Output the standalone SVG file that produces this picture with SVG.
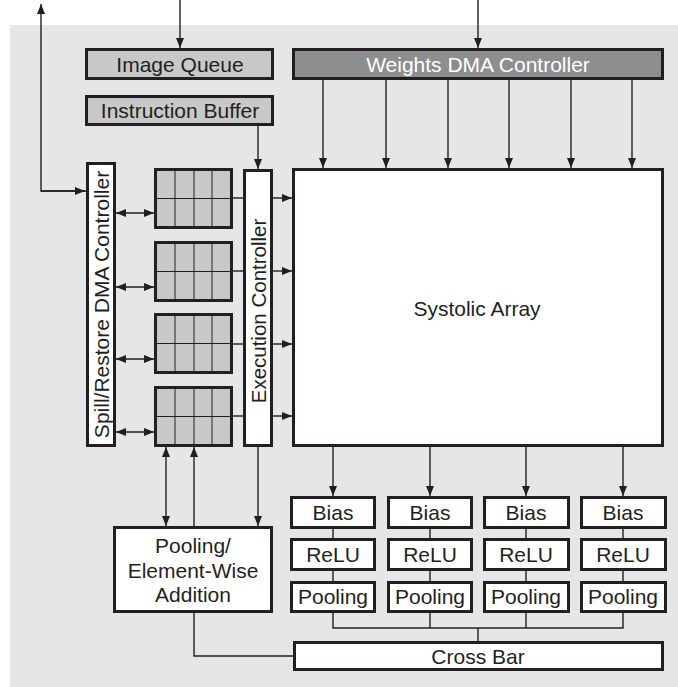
<svg xmlns="http://www.w3.org/2000/svg" width="678" height="687" viewBox="0 0 678 687">
<defs>
<marker id="ah" markerUnits="userSpaceOnUse" markerWidth="10" markerHeight="8" refX="10" refY="4" orient="auto-start-reverse">
<path d="M0,0 L10,4 L0,8 Z" fill="#231f20"/>
</marker>
<style>
.box{stroke:#231f20;stroke-width:3;}
.w{fill:#ffffff;}
.lg{fill:#c8c8c9;}
.dg{fill:#8d8e90;}
.t{font-family:"Liberation Sans",Arial,sans-serif;font-size:21px;fill:#231f20;text-anchor:middle;}
.tw{fill:#ffffff;}
.c{stroke:#231f20;stroke-width:1.4;fill:none;}
.a{marker-end:url(#ah);}
.b{marker-start:url(#ah);marker-end:url(#ah);}
.g{stroke:#231f20;stroke-width:1;fill:none;}
</style>
</defs>
<rect x="10" y="25" width="668" height="662" fill="#e5e6e7"/>

<g id="connectors">
<line class="c a" x1="180" y1="0" x2="180" y2="48"/>
<line class="c a" x1="478" y1="0" x2="478" y2="48"/>
<polyline class="c a" points="86,191 41,191 41,4"/>
<line class="c a" x1="41" y1="191" x2="85" y2="191"/>
<line class="c a" x1="258" y1="125" x2="258" y2="169"/>
<line class="c a" x1="323" y1="80" x2="323" y2="168"/>
<line class="c a" x1="386" y1="80" x2="386" y2="168"/>
<line class="c a" x1="448" y1="80" x2="448" y2="168"/>
<line class="c a" x1="509" y1="80" x2="509" y2="168"/>
<line class="c a" x1="571" y1="80" x2="571" y2="168"/>
<line class="c a" x1="632" y1="80" x2="632" y2="168"/>
<line class="c b" x1="116" y1="213" x2="154" y2="213"/>
<line class="c b" x1="116" y1="287" x2="154" y2="287"/>
<line class="c b" x1="116" y1="359" x2="154" y2="359"/>
<line class="c b" x1="116" y1="432" x2="154" y2="432"/>
<line class="c" x1="232" y1="198" x2="244" y2="198"/>
<line class="c" x1="232" y1="271" x2="244" y2="271"/>
<line class="c" x1="232" y1="344" x2="244" y2="344"/>
<line class="c" x1="232" y1="416" x2="244" y2="416"/>
<line class="c a" x1="272" y1="198" x2="292" y2="198"/>
<line class="c a" x1="272" y1="271" x2="292" y2="271"/>
<line class="c a" x1="272" y1="344" x2="292" y2="344"/>
<line class="c a" x1="272" y1="416" x2="292" y2="416"/>
<line class="c b" x1="166" y1="447" x2="166" y2="526"/>
<line class="c a" x1="194" y1="527" x2="194" y2="447"/>
<line class="c a" x1="258" y1="446" x2="258" y2="526"/>
<line class="c a" x1="333" y1="446" x2="333" y2="496"/>
<line class="c a" x1="430" y1="446" x2="430" y2="496"/>
<line class="c a" x1="526" y1="446" x2="526" y2="496"/>
<line class="c a" x1="623" y1="446" x2="623" y2="496"/>
<line class="c" x1="333" y1="528" x2="333" y2="539"/>
<line class="c" x1="430" y1="528" x2="430" y2="539"/>
<line class="c" x1="526" y1="528" x2="526" y2="539"/>
<line class="c" x1="623" y1="528" x2="623" y2="539"/>
<line class="c" x1="333" y1="570" x2="333" y2="582"/>
<line class="c" x1="430" y1="570" x2="430" y2="582"/>
<line class="c" x1="526" y1="570" x2="526" y2="582"/>
<line class="c" x1="623" y1="570" x2="623" y2="582"/>
<polyline class="c" points="333,612 333,628 623,628 623,612"/>
<line class="c" x1="430" y1="612" x2="430" y2="628"/>
<line class="c" x1="526" y1="612" x2="526" y2="628"/>
<line class="c" x1="478" y1="628" x2="478" y2="642"/>
<polyline class="c" points="194,612 194,656 294,656"/>
</g>

<g id="image-queue">
<rect class="box lg" x="86.5" y="49.5" width="186" height="29"/>
<text class="t" x="180" y="71.5">Image Queue</text>
</g>
<g id="instruction-buffer">
<rect class="box lg" x="86.5" y="96.5" width="186" height="28"/>
<text class="t" x="180" y="118">Instruction Buffer</text>
</g>
<g id="weights-dma-controller">
<rect class="box dg" x="293.5" y="49.5" width="369" height="29"/>
<text class="t tw" x="478" y="71.5">Weights DMA Controller</text>
</g>
<g id="systolic-array">
<rect class="box w" x="293.5" y="169.5" width="369" height="276"/>
<text class="t" x="477" y="316">Systolic Array</text>
</g>
<g id="spill-restore-dma-controller">
<rect class="box w" x="87.5" y="163.5" width="27" height="282"/>
<text class="t" transform="translate(108.5,304.5) rotate(-90)">Spill/Restore DMA Controller</text>
</g>
<g id="execution-controller">
<rect class="box w" x="244.5" y="170.5" width="27" height="275"/>
<text class="t" transform="translate(265.5,311) rotate(-90)" style="font-size:20.5px">Execution Controller</text>
</g>

<g id="register-file-1">
<rect class="box lg" x="155.5" y="169.5" width="76" height="58"/>
<path class="g" d="M175,169V228M194,169V228M212,169V228M155,198.5H232"/>
</g>
<g id="register-file-2">
<rect class="box lg" x="155.5" y="242.5" width="76" height="58"/>
<path class="g" d="M175,242V301M194,242V301M212,242V301M155,271.5H232"/>
</g>
<g id="register-file-3">
<rect class="box lg" x="155.5" y="314.5" width="76" height="58"/>
<path class="g" d="M175,314V373M194,314V373M212,314V373M155,343.5H232"/>
</g>
<g id="register-file-4">
<rect class="box lg" x="155.5" y="387.5" width="76" height="58"/>
<path class="g" d="M175,387V446M194,387V446M212,387V446M155,416.5H232"/>
</g>

<g id="pooling-element-wise-addition">
<rect class="box w" x="114.5" y="527.5" width="157" height="84"/>
<text class="t" x="193" y="553">Pooling/</text>
<text class="t" x="193" y="578">Element-Wise</text>
<text class="t" x="193" y="602">Addition</text>
</g>

<g id="bias-1"><rect class="box w" x="291.5" y="497.5" width="83" height="30"/><text class="t" x="333" y="520">Bias</text></g>
<g id="relu-1"><rect class="box w" x="291.5" y="539.5" width="83" height="30"/><text class="t" x="333" y="562">ReLU</text></g>
<g id="pooling-1"><rect class="box w" x="291.5" y="582.5" width="83" height="29"/><text class="t" x="333" y="604">Pooling</text></g>

<g id="bias-2"><rect class="box w" x="388.5" y="497.5" width="83" height="30"/><text class="t" x="430" y="520">Bias</text></g>
<g id="relu-2"><rect class="box w" x="388.5" y="539.5" width="83" height="30"/><text class="t" x="430" y="562">ReLU</text></g>
<g id="pooling-2"><rect class="box w" x="388.5" y="582.5" width="83" height="29"/><text class="t" x="430" y="604">Pooling</text></g>

<g id="bias-3"><rect class="box w" x="484.5" y="497.5" width="84" height="30"/><text class="t" x="526" y="520">Bias</text></g>
<g id="relu-3"><rect class="box w" x="484.5" y="539.5" width="84" height="30"/><text class="t" x="526" y="562">ReLU</text></g>
<g id="pooling-3"><rect class="box w" x="484.5" y="582.5" width="84" height="29"/><text class="t" x="526" y="604">Pooling</text></g>

<g id="bias-4"><rect class="box w" x="581.5" y="497.5" width="84" height="30"/><text class="t" x="623" y="520">Bias</text></g>
<g id="relu-4"><rect class="box w" x="581.5" y="539.5" width="84" height="30"/><text class="t" x="623" y="562">ReLU</text></g>
<g id="pooling-4"><rect class="box w" x="581.5" y="582.5" width="84" height="29"/><text class="t" x="623" y="604">Pooling</text></g>

<g id="cross-bar">
<rect class="box w" x="294.5" y="642.5" width="368" height="27"/>
<text class="t" x="478" y="663.5">Cross Bar</text>
</g>
</svg>
